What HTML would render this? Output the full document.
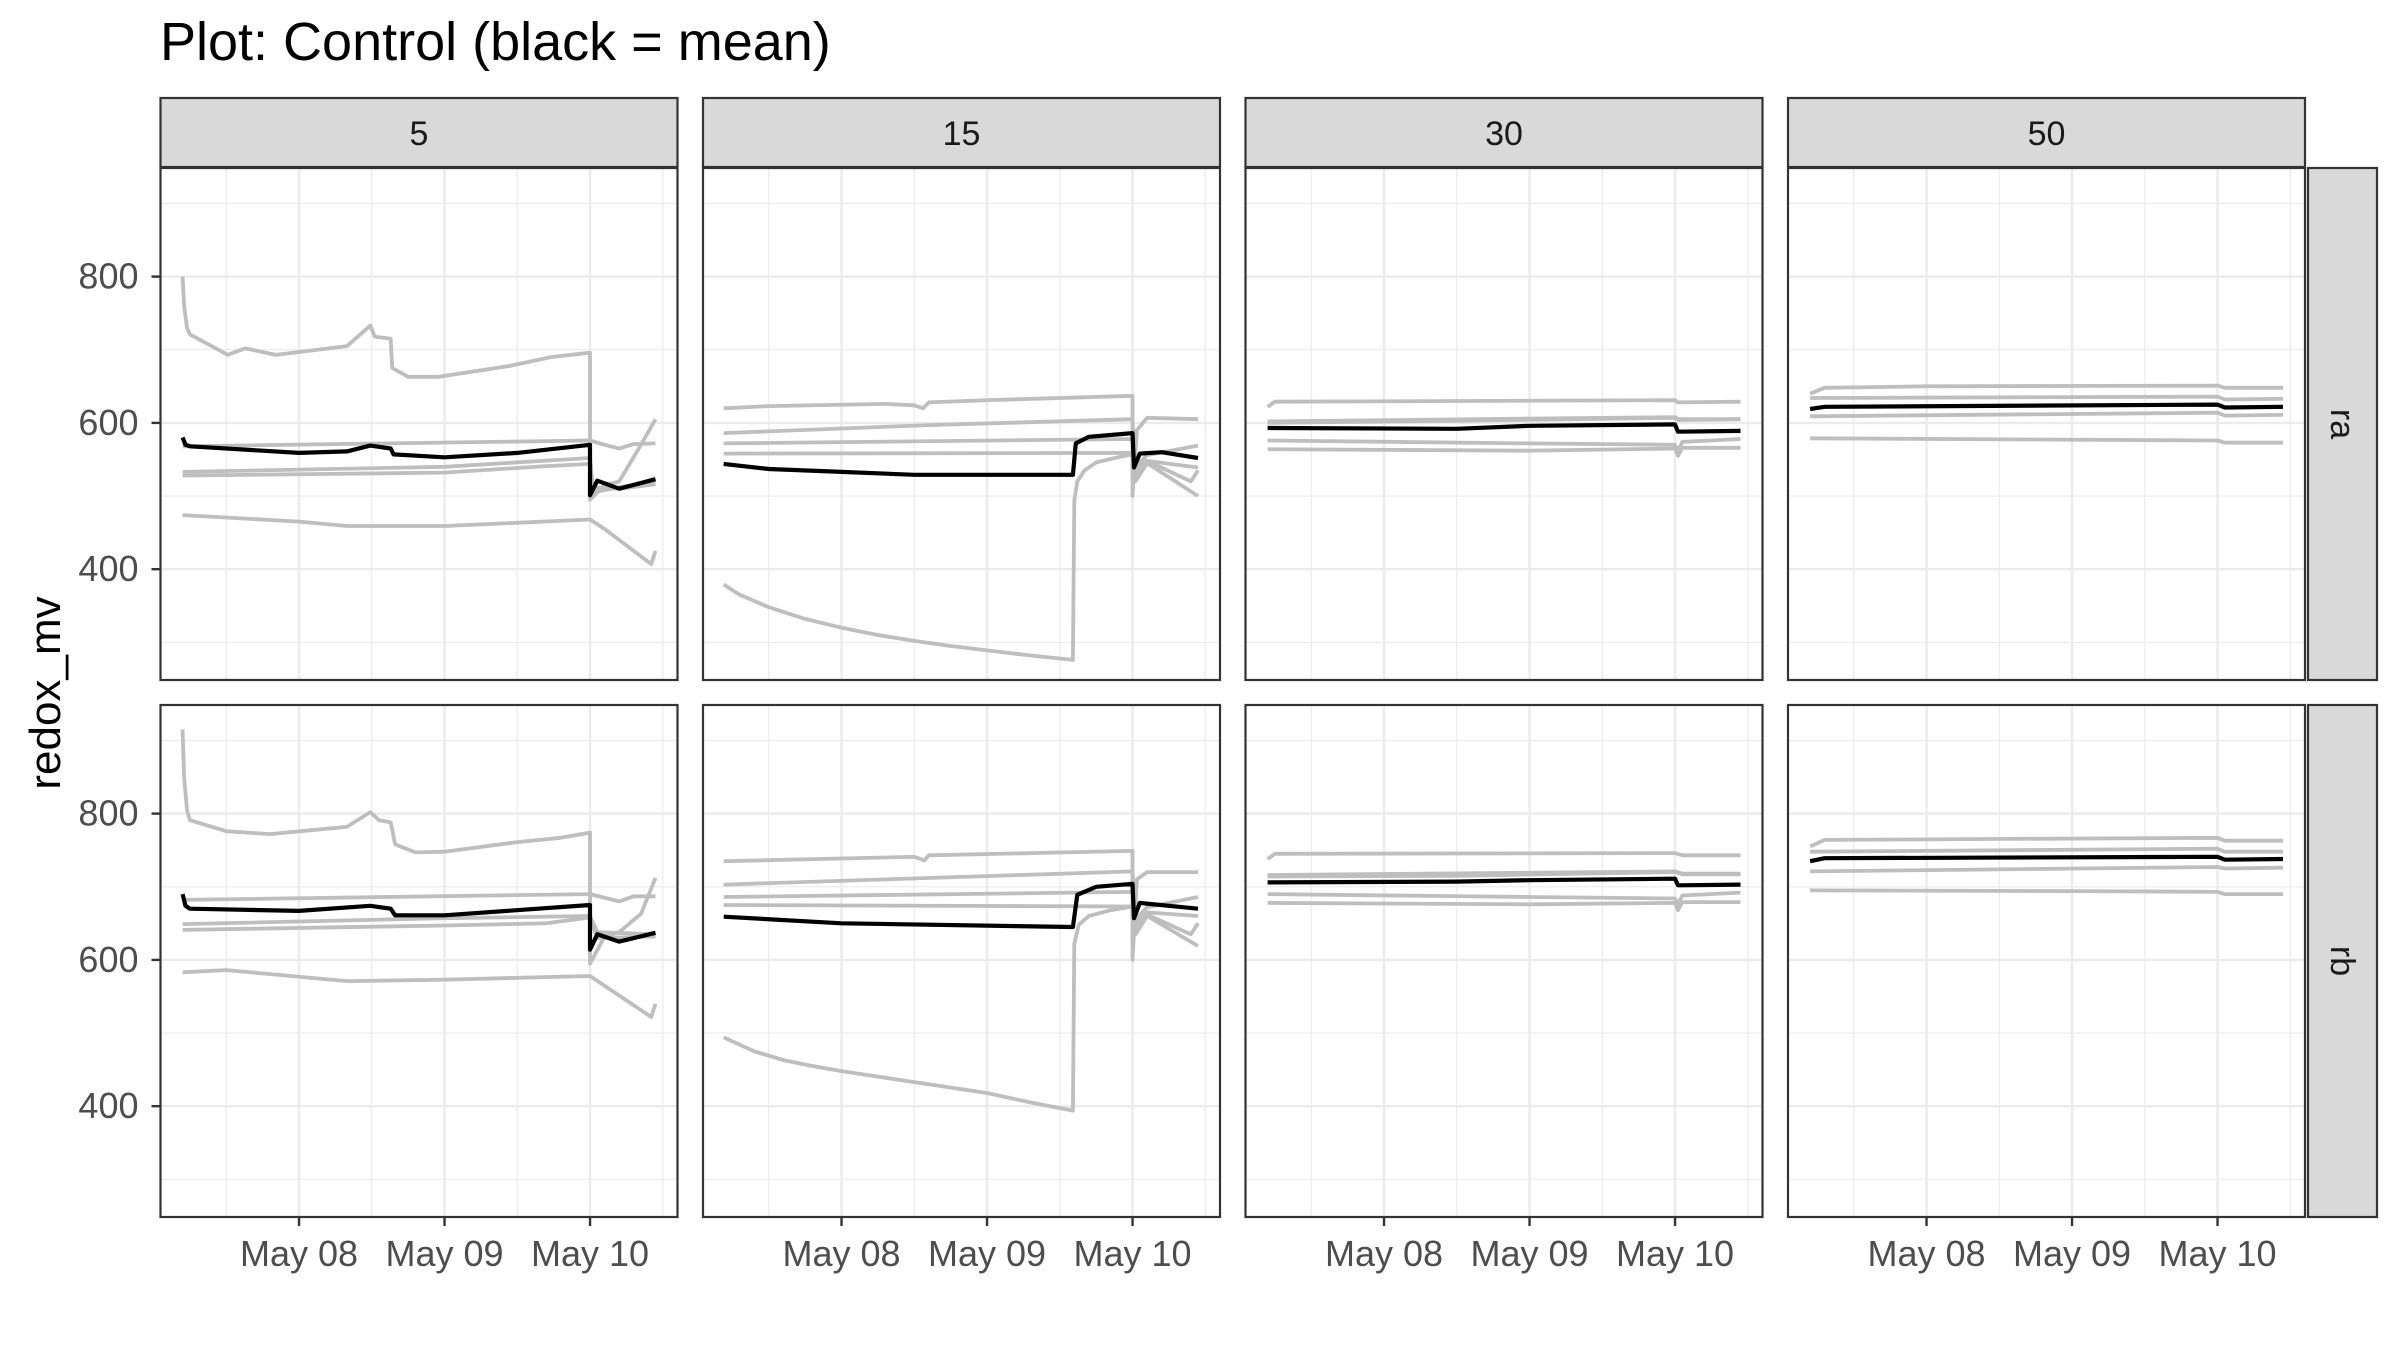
<!DOCTYPE html>
<html><head><meta charset="utf-8"><style>
html,body{margin:0;padding:0;background:#fff;}
svg{display:block;}
text{font-family:"Liberation Sans",Arial,sans-serif;}
</style></head><body>
<svg id="chart" width="2400" height="1350" viewBox="0 0 2400 1350" xmlns="http://www.w3.org/2000/svg">
<rect x="0" y="0" width="2400" height="1350" fill="#fff"/>
<text x="160" y="60" font-size="54" fill="#000">Plot: Control (black = mean)</text>
<text transform="translate(60,693) rotate(-90)" text-anchor="middle" font-size="44" fill="#000">redox_mv</text>
<g id="panels"></g>
</svg>
<script>
// facet categories
const depthLabels = ["5", "15", "30", "50"];
const rowLabels = ["ra", "rb"];
const yTicks = [400, 600, 800];
const yMinorTicks = [300, 500, 700, 900];
const xTicks = [0, 1, 2];
const xTickLabels = ["May 08", "May 09", "May 10"];
const xMinorTicks = [-0.5, 0.5, 1.5, 2.5];

// series: [day offset from May 08, redox mV]
const ra5 = [
 [[-0.8,800],[-0.79,760],[-0.77,730],[-0.75,721],[-0.6,705],[-0.49,693],[-0.37,702],[-0.16,693],[0.33,705],[0.49,733],[0.52,718],[0.63,715],[0.64,675],[0.75,663],[0.96,663],[1.45,678],[1.59,684],[1.73,690],[2.0,696],[2.0,495],[2.1,515],[2.2,520],[2.35,570],[2.45,605]],
 [[-0.8,568],[2.0,576],[2.1,570],[2.2,565],[2.3,571],[2.45,572]],
 [[-0.8,533],[1.0,540],[2.0,552],[2.02,512],[2.2,510],[2.45,516]],
 [[-0.8,528],[1.0,532],[1.7,541],[2.0,544],[2.02,505],[2.2,512],[2.45,520]],
 [[-0.8,474],[0.0,465],[0.33,459],[1.0,459],[2.0,468],[2.1,455],[2.42,407],[2.45,425]]
];
const ra5mean = [[-0.8,580],[-0.78,570],[-0.75,568],[0.0,559],[0.33,561],[0.49,569],[0.63,565],[0.65,557],[1.0,553],[1.5,559],[2.0,570],[2.0,501],[2.05,521],[2.2,510],[2.45,523]];
const rb5 = [
 [[-0.8,915],[-0.79,850],[-0.77,805],[-0.75,791],[-0.5,776],[-0.2,772],[0.33,782],[0.49,802],[0.55,791],[0.63,788],[0.66,758],[0.8,747],[1.0,748],[1.5,761],[1.8,767],[2.0,774],[2.0,595],[2.1,632],[2.2,638],[2.35,663],[2.45,712]],
 [[-0.8,682],[2.0,690],[2.2,680],[2.3,687],[2.45,687]],
 [[-0.8,649],[1.0,657],[2.0,660],[2.05,638],[2.45,635]],
 [[-0.8,641],[1.0,647],[1.7,650],[2.0,658],[2.05,630],[2.45,632]],
 [[-0.8,583],[-0.5,586],[0.33,571],[1.0,573],[2.0,578],[2.42,522],[2.45,540]]
];
const rb5mean = [[-0.8,690],[-0.78,674],[-0.75,670],[0.0,667],[0.49,674],[0.63,670],[0.66,661],[1.0,661],[2.0,675],[2.0,614],[2.05,635],[2.2,625],[2.45,637]];

const ra15 = [
 [[-0.81,620],[-0.5,623],[0.3,626],[0.5,624],[0.56,620],[0.6,628],[1.0,631],[2.0,637],[2.0,500],[2.03,590],[2.1,607],[2.45,605]],
 [[-0.81,586],[0.6,597],[2.0,605],[2.02,540],[2.1,556],[2.45,569]],
 [[-0.81,572],[2.0,578],[2.02,530],[2.1,548],[2.45,539]],
 [[-0.81,558],[2.0,559],[2.02,520],[2.1,545],[2.45,500]],
 [[-0.81,379],[-0.7,365],[-0.5,348],[-0.25,332],[0,320],[0.25,310],[0.5,302],[0.75,295],[1.0,289],[1.3,282],[1.59,276],[1.6,494],[1.62,520],[1.67,535],[1.75,546],[1.9,553],[2.0,557],[2.02,535],[2.1,548],[2.4,520],[2.45,535]]
];
const ra15mean = [[-0.81,544],[-0.5,537],[0,533],[0.5,529],[1.59,529],[1.61,572],[1.7,581],[2.0,586],[2.01,539],[2.05,558],[2.2,560],[2.45,552]];
const rb15 = [
 [[-0.81,735],[0.5,741],[0.57,736],[0.6,743],[2.0,749],[2.0,600],[2.03,710],[2.1,720],[2.45,720]],
 [[-0.81,703],[2.0,721],[2.02,655],[2.1,672],[2.45,686]],
 [[-0.81,686],[2.0,693],[2.02,645],[2.1,665],[2.45,660]],
 [[-0.81,675],[2.0,673],[2.02,635],[2.1,660],[2.45,619]],
 [[-0.81,494],[-0.6,475],[-0.4,463],[-0.2,455],[0,448],[0.5,433],[1.0,418],[1.3,405],[1.59,394],[1.6,622],[1.63,648],[1.7,660],[1.85,668],[2.0,673],[2.02,650],[2.1,662],[2.4,635],[2.45,650]]
];
const rb15mean = [[-0.81,659],[0,650],[1.59,645],[1.62,689],[1.75,700],[2.0,704],[2.01,657],[2.05,678],[2.45,670]];

const ra30 = [
 [[-0.8,622],[-0.75,629],[2.0,631],[2.02,628],[2.45,629]],
 [[-0.8,602],[2.0,608],[2.02,605],[2.45,605]],
 [[-0.8,600],[0.5,603],[2.0,607],[2.02,604],[2.45,605]],
 [[-0.8,576],[1.0,572],[2.0,570],[2.02,562],[2.05,574],[2.45,578]],
 [[-0.8,564],[1.0,562],[2.0,565],[2.02,555],[2.05,566],[2.45,566]]
];
const ra30mean = [[-0.8,593],[0.5,592],[1.0,596],[2.0,598],[2.02,588],[2.45,589]];
const rb30 = [
 [[-0.8,738],[-0.75,745],[2.0,746],[2.05,743],[2.45,743]],
 [[-0.8,716],[2.0,721],[2.05,718],[2.45,718]],
 [[-0.8,714],[0.5,715],[2.0,720],[2.05,717],[2.45,717]],
 [[-0.8,690],[1.0,686],[2.0,684],[2.02,676],[2.05,688],[2.45,692]],
 [[-0.8,678],[1.0,676],[2.0,678],[2.02,668],[2.05,679],[2.45,679]]
];
const rb30mean = [[-0.8,706],[0.5,707],[1.0,709],[2.0,711],[2.02,702],[2.45,703]];

const ra50 = [
 [[-0.8,640],[-0.7,648],[0,650],[2.0,651],[2.05,648],[2.45,648]],
 [[-0.8,634],[2.0,636],[2.05,632],[2.45,633]],
 [[-0.8,609],[2.0,614],[2.05,610],[2.45,611]],
 [[-0.8,579],[2.0,576],[2.05,573],[2.45,573]]
];
const ra50mean = [[-0.8,619],[-0.7,622],[2.0,625],[2.05,621],[2.45,622]];
const rb50 = [
 [[-0.8,755],[-0.7,764],[2.0,767],[2.05,763],[2.45,763]],
 [[-0.8,748],[2.0,752],[2.05,748],[2.45,748]],
 [[-0.8,721],[2.0,727],[2.05,725],[2.45,726]],
 [[-0.8,695],[1.0,694],[2.0,693],[2.05,690],[2.45,690]]
];
const rb50mean = [[-0.8,735],[-0.7,739],[2.0,741],[2.05,737],[2.45,738]];

const seriesGrid = [[ra5, ra15, ra30, ra50],[rb5, rb15, rb30, rb50]];
const meanGrid = [[ra5mean, ra15mean, ra30mean, ra50mean],[rb5mean, rb15mean, rb30mean, rb50mean]];

// layout
const NS = "http://www.w3.org/2000/svg";
const panelLefts = [160.5, 703, 1245.5, 1788];
const panelTops = [168, 705];
const PW = 517, PH = 512;
const xDom = [-0.952, 2.601];
const yDom = [248.5, 948.5];
function sx(col, t){ return panelLefts[col] + (t - xDom[0]) / (xDom[1] - xDom[0]) * PW; }
function sy(row, v){ return panelTops[row] + PH - (v - yDom[0]) / (yDom[1] - yDom[0]) * PH; }
function mk(tag, attrs, parent){
  const e = document.createElementNS(NS, tag);
  for (const k in attrs) e.setAttribute(k, attrs[k]);
  parent.appendChild(e);
  return e;
}
const root = document.getElementById("panels");
const defs = mk("defs", {}, root);

for (let r = 0; r < 2; r++) {
  for (let c = 0; c < 4; c++) {
    const L = panelLefts[c], T = panelTops[r];
    const cp = mk("clipPath", {id: "clip" + r + c}, defs);
    mk("rect", {x: L, y: T, width: PW, height: PH}, cp);
    const g = mk("g", {}, root);
    
    
    mk("rect", {x: L, y: T, width: PW, height: PH, fill: "#fff"}, g);
    yMinorTicks.forEach(v => {
      const ln = mk("line", {x1: L, x2: L + PW, y1: sy(r, v), y2: sy(r, v), stroke: "#ebebeb", "stroke-width": 1.2}, g);
      
      
    });
    xMinorTicks.forEach(t => {
      const ln = mk("line", {x1: sx(c, t), x2: sx(c, t), y1: T, y2: T + PH, stroke: "#ebebeb", "stroke-width": 1.2}, g);
      
      
    });
    yTicks.forEach(v => {
      const ln = mk("line", {x1: L, x2: L + PW, y1: sy(r, v), y2: sy(r, v), stroke: "#ebebeb", "stroke-width": 2.4}, g);
      
      
    });
    xTicks.forEach(t => {
      const ln = mk("line", {x1: sx(c, t), x2: sx(c, t), y1: T, y2: T + PH, stroke: "#ebebeb", "stroke-width": 2.4}, g);
      
      
    });
    const lg = mk("g", {"clip-path": "url(#clip" + r + c + ")"}, g);
    seriesGrid[r][c].forEach((s, i) => {
      const p = mk("polyline", {points: s.map(d => sx(c, d[0]).toFixed(1) + "," + sy(r, d[1]).toFixed(1)).join(" "), fill: "none", stroke: "#bebebe", "stroke-width": 3.8, "stroke-linejoin": "round"}, lg);
      
      
    });
    const m = mk("polyline", {points: meanGrid[r][c].map(d => sx(c, d[0]).toFixed(1) + "," + sy(r, d[1]).toFixed(1)).join(" "), fill: "none", stroke: "#000", "stroke-width": 4.2, "stroke-linejoin": "round"}, lg);
    
    
    mk("rect", {x: L, y: T, width: PW, height: PH, fill: "none", stroke: "#333", "stroke-width": 2.2}, g);

    if (c === 0) {
      yTicks.forEach(v => {
        mk("line", {x1: L - 9, x2: L, y1: sy(r, v), y2: sy(r, v), stroke: "#333", "stroke-width": 2.4}, root);
        const tx = mk("text", {x: L - 22, y: sy(r, v) + 12, "text-anchor": "end", "font-size": 36, fill: "#4d4d4d"}, root);
        tx.textContent = v;
        
        
      });
    }
    if (r === 1) {
      xTicks.forEach((t, i) => {
        mk("line", {x1: sx(c, t), x2: sx(c, t), y1: T + PH, y2: T + PH + 9, stroke: "#333", "stroke-width": 2.4}, root);
        const tx = mk("text", {x: sx(c, t), y: T + PH + 49, "text-anchor": "middle", "font-size": 36, fill: "#4d4d4d"}, root);
        tx.textContent = xTickLabels[i];
        
        
      });
    }
  }
}
// column strips
depthLabels.forEach((lab, c) => {
  const g = mk("g", {}, root);
  
  
  mk("rect", {x: panelLefts[c], y: 98, width: PW, height: 69, fill: "#d9d9d9", stroke: "#333", "stroke-width": 2.2}, g);
  const tx = mk("text", {x: panelLefts[c] + PW / 2, y: 145, "text-anchor": "middle", "font-size": 34, fill: "#1a1a1a"}, g);
  tx.textContent = lab;
});
// row strips
rowLabels.forEach((lab, r) => {
  const g = mk("g", {}, root);
  
  
  mk("rect", {x: 2308, y: panelTops[r], width: 69, height: PH, fill: "#d9d9d9", stroke: "#333", "stroke-width": 2.2}, g);
  const tx = mk("text", {transform: "translate(2331," + (panelTops[r] + PH / 2) + ") rotate(90)", "text-anchor": "middle", "font-size": 34, fill: "#1a1a1a"}, g);
  tx.textContent = lab;
});
</script>
</body></html>
